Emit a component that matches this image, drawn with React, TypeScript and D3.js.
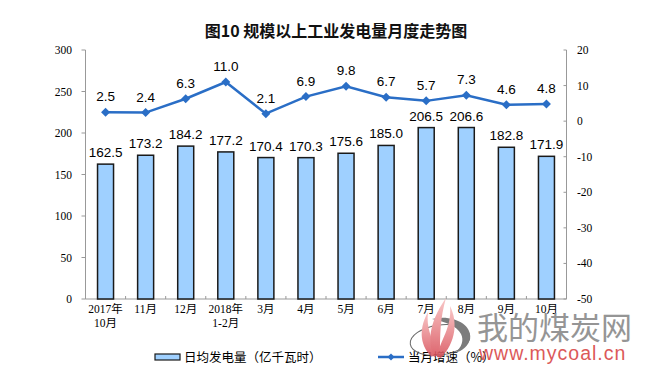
import React from "react";
import * as d3 from "d3";

const categories = ["2017年\n10月", "11月", "12月", "2018年\n1-2月", "3月", "4月", "5月", "6月", "7月", "8月", "9月", "10月"];
const dailyGen = [162.5, 173.2, 184.2, 177.2, 170.4, 170.3, 175.6, 185.0, 206.5, 206.6, 182.8, 171.9];
const growth = [2.5, 2.4, 6.3, 11.0, 2.1, 6.9, 9.8, 6.7, 5.7, 7.3, 4.6, 4.8];
const leftTicks = [0, 50, 100, 150, 200, 250, 300];
const rightTicks = [-50, -40, -30, -20, -10, 0, 10, 20];
const title = "图10  规模以上工业发电量月度走势图";
const barLegend = "日均发电量（亿千瓦时）";
const lineLegend = "当月增速（%）";

const W = 653, H = 369;
const left = 85.5, right = 566.5, top = 50, bottom = 299;

export default function App() {
  const yL = d3.scaleLinear().domain([0, 300]).range([bottom, top]);
  const yR = d3.scaleLinear().domain([-50, 20]).range([bottom, top]);
  const step = (right - left) / categories.length;
  const cx = (i: number) => left + step * (i + 0.5);
  const bw = 16;
  const line = d3.line<number>().x((_, i) => cx(i)).y(d => yR(d));
  const numFont = "'Liberation Serif', 'Noto Sans CJK SC', serif";
  const valFont = "'Liberation Sans', Arial, sans-serif";
  const diamond = (px: number, py: number, r = 4) => `M${px},${py - r}L${px + r},${py}L${px},${py + r}L${px - r},${py}Z`;
  const blue = "#2a6ec6";

  return (
    <svg width={W} height={H} style={{ position: "absolute", left: 0, top: 0, background: "#fff" }}>
      <defs>
        <linearGradient id="flame" x1="0" y1="0" x2="0" y2="1">
          <stop offset="0" stopColor="#f8c0c0" />
          <stop offset="1" stopColor="#d9505a" />
        </linearGradient>
      </defs>
      <rect width={W} height={H} fill="#fff" />
      <text x={336} y={37} textAnchor="middle" fontFamily="'Noto Sans CJK SC', sans-serif" fontWeight="bold" fontSize={16} fill="#111">{title}</text>

      {/* axes */}
      <line x1={left} x2={left} y1={top} y2={bottom} stroke="#999" />
      <line x1={right} x2={right} y1={top} y2={bottom} stroke="#999" />
      <line x1={left} x2={right} y1={bottom} y2={bottom} stroke="#999" />
      {leftTicks.map(t => (
        <g key={"l" + t}>
          <line x1={left - 4} x2={left} y1={yL(t)} y2={yL(t)} stroke="#999" />
          <text x={72} y={yL(t) + 4} textAnchor="end" fontFamily={numFont} fontSize={11.5} fill="#000">{t}</text>
        </g>
      ))}
      {rightTicks.map(t => (
        <g key={"r" + t}>
          <line x1={right - 3} x2={right} y1={yR(t)} y2={yR(t)} stroke="#999" />
          <text x={577} y={yR(t) + 4} textAnchor="start" fontFamily={numFont} fontSize={11.5} fill="#000">{t}</text>
        </g>
      ))}
      {d3.range(categories.length + 1).map(i => (
        <line key={"xt" + i} x1={left + step * i} x2={left + step * i} y1={bottom - 3} y2={bottom} stroke="#999" />
      ))}

      {/* bars */}
      {dailyGen.map((v, i) => (
        <g key={"b" + i}>
          <rect x={cx(i) - bw / 2} y={yL(v)} width={bw} height={bottom - yL(v)} fill="#9fd0ff" stroke="#1a1a1a" strokeWidth={1.5} />
          <text x={cx(i)} y={yL(v) - 7} textAnchor="middle" fontFamily={valFont} fontSize={13.5} fill="#000">{v.toFixed(1)}</text>
        </g>
      ))}

      {/* line */}
      <path d={line(growth) || ""} fill="none" stroke={blue} strokeWidth={2.5} />
      {growth.map((v, i) => (
        <g key={"p" + i}>
          <path d={diamond(cx(i), yR(v), 4.5)} fill={blue} />
          <text x={cx(i)} y={yR(v) - 11} textAnchor="middle" fontFamily={valFont} fontSize={13.5} fill="#000">{v.toFixed(1)}</text>
        </g>
      ))}

      {/* x labels */}
      {categories.map((c, i) => (
        <text key={"x" + i} x={cx(i)} y={313} textAnchor="middle" fontFamily={numFont} fontSize={11.5} fill="#000">
          {c.split("\n").map((s, j) => (
            <tspan key={j} x={cx(i)} dy={j === 0 ? 0 : 14}>{s}</tspan>
          ))}
        </text>
      ))}

      {/* legend */}
      <rect x={155} y={354} width={25} height={6} fill="#9fd0ff" stroke="#1a1a1a" strokeWidth={1.2} />
      <text x={184} y={362} fontFamily="'Noto Sans CJK SC', sans-serif" fontSize={12.5} fill="#000">{barLegend}</text>
      <line x1={378} x2={404} y1={357} y2={357} stroke={blue} strokeWidth={2.5} />
      <path d={diamond(391, 357, 3.5)} fill={blue} />
      <text x={408} y={362} fontFamily="'Noto Sans CJK SC', sans-serif" fontSize={12.5} fill="#000">{lineLegend}</text>

      {/* watermark logo */}
      <g opacity={0.88}>
        <ellipse cx={440} cy={340} rx={30} ry={15} fill="none" stroke="#555" strokeWidth={1} transform="rotate(-8 440 340)" />
        <path d="M432,319 C452,314 472,324 470,338 C469,346 462,351 455,353 C462,347 464,340 461,334 C457,326 446,322 432,319 Z" fill="#6a6a6a" />
        <path d="M432,357 C418,344 420,326 428,312 C426,328 432,338 436,350 Z" fill="url(#flame)" />
        <path d="M434,357 C426,338 432,318 446,298 C440,318 440,336 440,354 Z" fill="url(#flame)" />
        <path d="M437,357 C440,340 452,328 450,306 C458,322 456,342 441,358 Z" fill="url(#flame)" />
      </g>
      <text x={477} y={339} fontFamily="'Noto Sans CJK SC', sans-serif" fontSize={31} fill="#8a8a8a" opacity={0.9}>我的煤炭网</text>
      <text x={479} y={360} fontFamily="'Liberation Sans', sans-serif" fontSize={19.5} fill="#d94848" opacity={0.9} letterSpacing={1}>www.mycoal.cn</text>
    </svg>
  );
}
